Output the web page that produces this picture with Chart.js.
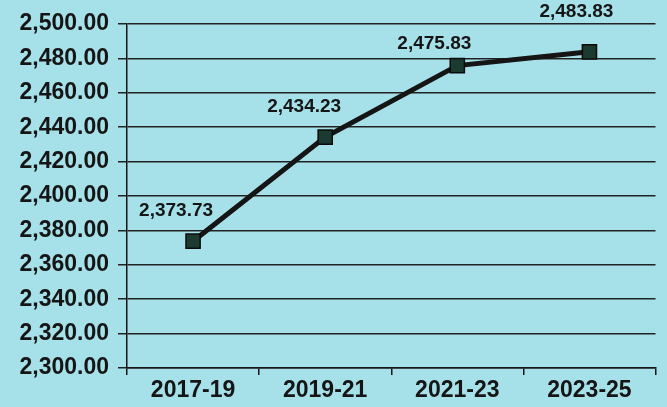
<!DOCTYPE html>
<html>
<head>
<meta charset="utf-8">
<script src="https://cdn.jsdelivr.net/npm/chart.js@4/dist/chart.umd.min.js"></script>
<style>
  html, body { margin: 0; padding: 0; background: #a6e1ea; }
  #wrap { width: 667px; height: 407px; position: relative; }
</style>
</head>
<body>
<div id="wrap"><canvas id="c"></canvas></div>
<script>
// data
const periods = ['2017-19', '2019-21', '2021-23', '2023-25'];
const amounts = [2373.73, 2434.23, 2475.83, 2483.83];
const yMin = 2300, yMax = 2500, yStep = 20;

const ink = '#151515';
const font = 'Liberation Sans, Arial, sans-serif';

// value labels sit up and left of each marker (last one higher, like the original)
const labelOffsets = [[-17, -30], [-21, -30], [-23, -22], [-13, -40]];

const fmt = v => v.toLocaleString('en-US', { minimumFractionDigits: 2, maximumFractionDigits: 2 });

const valueLabels = {
    id: 'valueLabels',
    afterDatasetsDraw(chart) {
        const ctx = chart.ctx;
        const meta = chart.getDatasetMeta(0);
        ctx.save();
        ctx.font = 'bold 19px ' + font;
        ctx.fillStyle = ink;
        ctx.textAlign = 'center';
        ctx.textBaseline = 'middle';
        meta.data.forEach((pt, i) => {
            const [dx, dy] = labelOffsets[i] || [0, -30];
            ctx.fillText(fmt(amounts[i]), pt.x + dx, pt.y + dy);
        });
        ctx.restore();
    }
};

new Chart(document.getElementById('c'), {
    type: 'line',
    data: {
        labels: periods,
        datasets: [{
            data: amounts,
            borderColor: ink,
            borderWidth: 5,
            tension: 0,
            pointStyle: 'rect',
            pointRadius: 10,
            pointBackgroundColor: '#1c3b30',
            pointBorderColor: '#0b0b0b',
            pointBorderWidth: 1.5
        }]
    },
    options: {
        responsive: true,
        maintainAspectRatio: false,
        animation: false,
        layout: { padding: { top: 24, right: 0, left: 0, bottom: 0 } },
        plugins: { legend: { display: false }, tooltip: { enabled: false } },
        scales: {
            x: {
                offset: true,
                afterFit: (s) => { s.height = 39; },
                grid: { offset: true, drawOnChartArea: false, drawTicks: true, tickLength: 7, color: ink, lineWidth: 1.5 },
                border: { display: true, color: ink, width: 1.5 },
                ticks: { color: ink, font: { family: font, size: 23, weight: 'bold' }, padding: 2 }
            },
            y: {
                min: yMin,
                max: yMax,
                afterFit: (s) => { s.width = 127; },
                grid: { color: '#222', lineWidth: 1.5, drawTicks: true, tickLength: 9 },
                border: { display: true, color: ink, width: 1.5 },
                ticks: {
                    stepSize: yStep,
                    color: ink,
                    padding: 9,
                    font: { family: font, size: 23, weight: 'bold' },
                    callback: (v) => fmt(v)
                }
            }
        }
    },
    plugins: [valueLabels]
});
</script>
</body>
</html>
